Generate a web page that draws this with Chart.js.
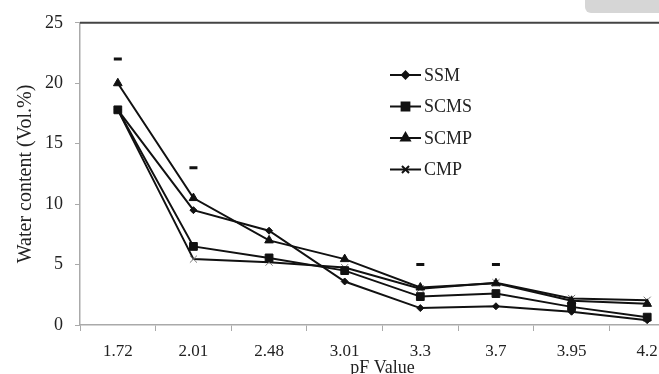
<!DOCTYPE html>
<html>
<head>
<meta charset="utf-8">
<script src="https://cdn.jsdelivr.net/npm/chart.js@4"></script>
<style>
  html, body { margin: 0; padding: 0; background: #fff; overflow: hidden; }
  #wrap { position: relative; width: 700px; height: 374px; }
  #corner { position: absolute; left: 585px; top: 0; width: 80px; height: 13px; background: #d6d6d6; border-bottom-left-radius: 6px; }
</style>
</head>
<body>
<div id="wrap">
  <canvas id="myChart" width="700" height="374"></canvas>
  <div id="corner"></div>
</div>
<script>
const pfLabels = ['1.72', '2.01', '2.48', '3.01', '3.3', '3.7', '3.95', '4.2'];
const ssm  = [17.8, 9.5, 7.8, 3.6, 1.4, 1.55, 1.1, 0.4];
const scms = [17.8, 6.5, 5.55, 4.5, 2.35, 2.6, 1.5, 0.65];
const scmp = [20.0, 10.5, 7.0, 5.45, 3.1, 3.45, 2.0, 1.75];
const cmp  = [17.8, 5.45, 5.2, 4.75, 3.0, 3.5, 2.2, 2.05];
const marks = [22, 13, null, null, 5, 5, null, null];
const yTicks = [0, 5, 10, 15, 20, 25];

const serif = "'Liberation Serif', 'Times New Roman', serif";

function series(label, data, style, radius, color) {
    return {
        label: label,
        data: data,
        borderColor: '#111',
        borderWidth: 2,
        pointStyle: style,
        pointRadius: radius,
        pointBackgroundColor: color || '#111',
        pointBorderColor: color || '#111',
        pointBorderWidth: 1,
        tension: 0
    };
}

// legend drawn inside the plot area
const innerLegend = {
    id: 'innerLegend',
    afterDraw(chart) {
        const c = chart.ctx;
        const area = chart.chartArea;
        c.save();
        // top frame line
        c.strokeStyle = '#444';
        c.lineWidth = 2;
        c.beginPath();
        c.moveTo(area.left, area.top);
        c.lineTo(chart.width, area.top);
        c.stroke();

        const x0 = 390, y0 = 75, gap = 31.5;
        c.font = '18px ' + serif;
        c.textBaseline = 'middle';
        chart.data.datasets.slice(0, 4).forEach(function (ds, i) {
            const y = y0 + i * gap;
            c.strokeStyle = '#111';
            c.lineWidth = 2;
            c.beginPath();
            c.moveTo(x0, y);
            c.lineTo(x0 + 31, y);
            c.stroke();
            Chart.helpers.drawPoint(c, {
                pointStyle: ds.pointStyle,
                radius: ds.pointRadius,
                borderWidth: 1
            }, x0 + 15.5, y);
            c.fillStyle = ds.pointBackgroundColor;
            c.strokeStyle = ds.pointBorderColor;
            c.fill();
            c.fillStyle = '#222';
            c.fillText(ds.label, x0 + 34, y + 1);
        });
        c.restore();
    }
};

const ctx = document.getElementById('myChart');

new Chart(ctx, {
    type: 'line',
    data: {
        labels: pfLabels,
        datasets: [
            series('SSM', ssm, 'rectRot', 3.5),
            series('SCMS', scms, 'rect', 5.5),
            series('SCMP', scmp, 'triangle', 5),
            series('CMP', cmp, 'crossRot', 5, '#777'),
            {
                label: 'sig',
                data: marks,
                showLine: false,
                pointStyle: 'line',
                pointRadius: 4,
                pointBorderWidth: 3,
                pointBorderColor: '#111',
                borderColor: '#111'
            }
        ]
    },
    options: {
        responsive: false,
        animation: false,
        layout: { padding: { left: 14, right: 15, top: 14, bottom: 0 } },
        plugins: {
            legend: { display: false },
            tooltip: { enabled: false }
        },
        scales: {
            x: {
                offset: true,
                grid: { offset: true, drawOnChartArea: false, drawTicks: true, tickLength: 6, color: '#aaa' },
                border: { display: true, color: '#aaa', width: 1.5 },
                ticks: { font: { family: serif, size: 17 }, color: '#222', padding: 10, maxRotation: 0 },
                title: { display: true, text: 'pF Value', font: { family: serif, size: 18 }, color: '#222', padding: { top: 0, bottom: -5 } },
                afterFit(scale) { scale.height = 49; }
            },
            y: {
                min: 0,
                max: 25,
                afterBuildTicks(scale) { scale.ticks = yTicks.map(v => ({ value: v })); },
                grid: { drawOnChartArea: false, drawTicks: true, tickLength: 5, color: '#aaa' },
                border: { display: true, color: '#aaa', width: 1.5 },
                ticks: { font: { family: serif, size: 18 }, color: '#222', padding: 12 },
                title: { display: true, text: 'Water content (Vol.%)', font: { family: serif, size: 20 }, color: '#222', padding: 0 },
                afterFit(scale) { scale.width = 66; }
            }
        }
    },
    plugins: [innerLegend]
});
</script>
</body>
</html>
